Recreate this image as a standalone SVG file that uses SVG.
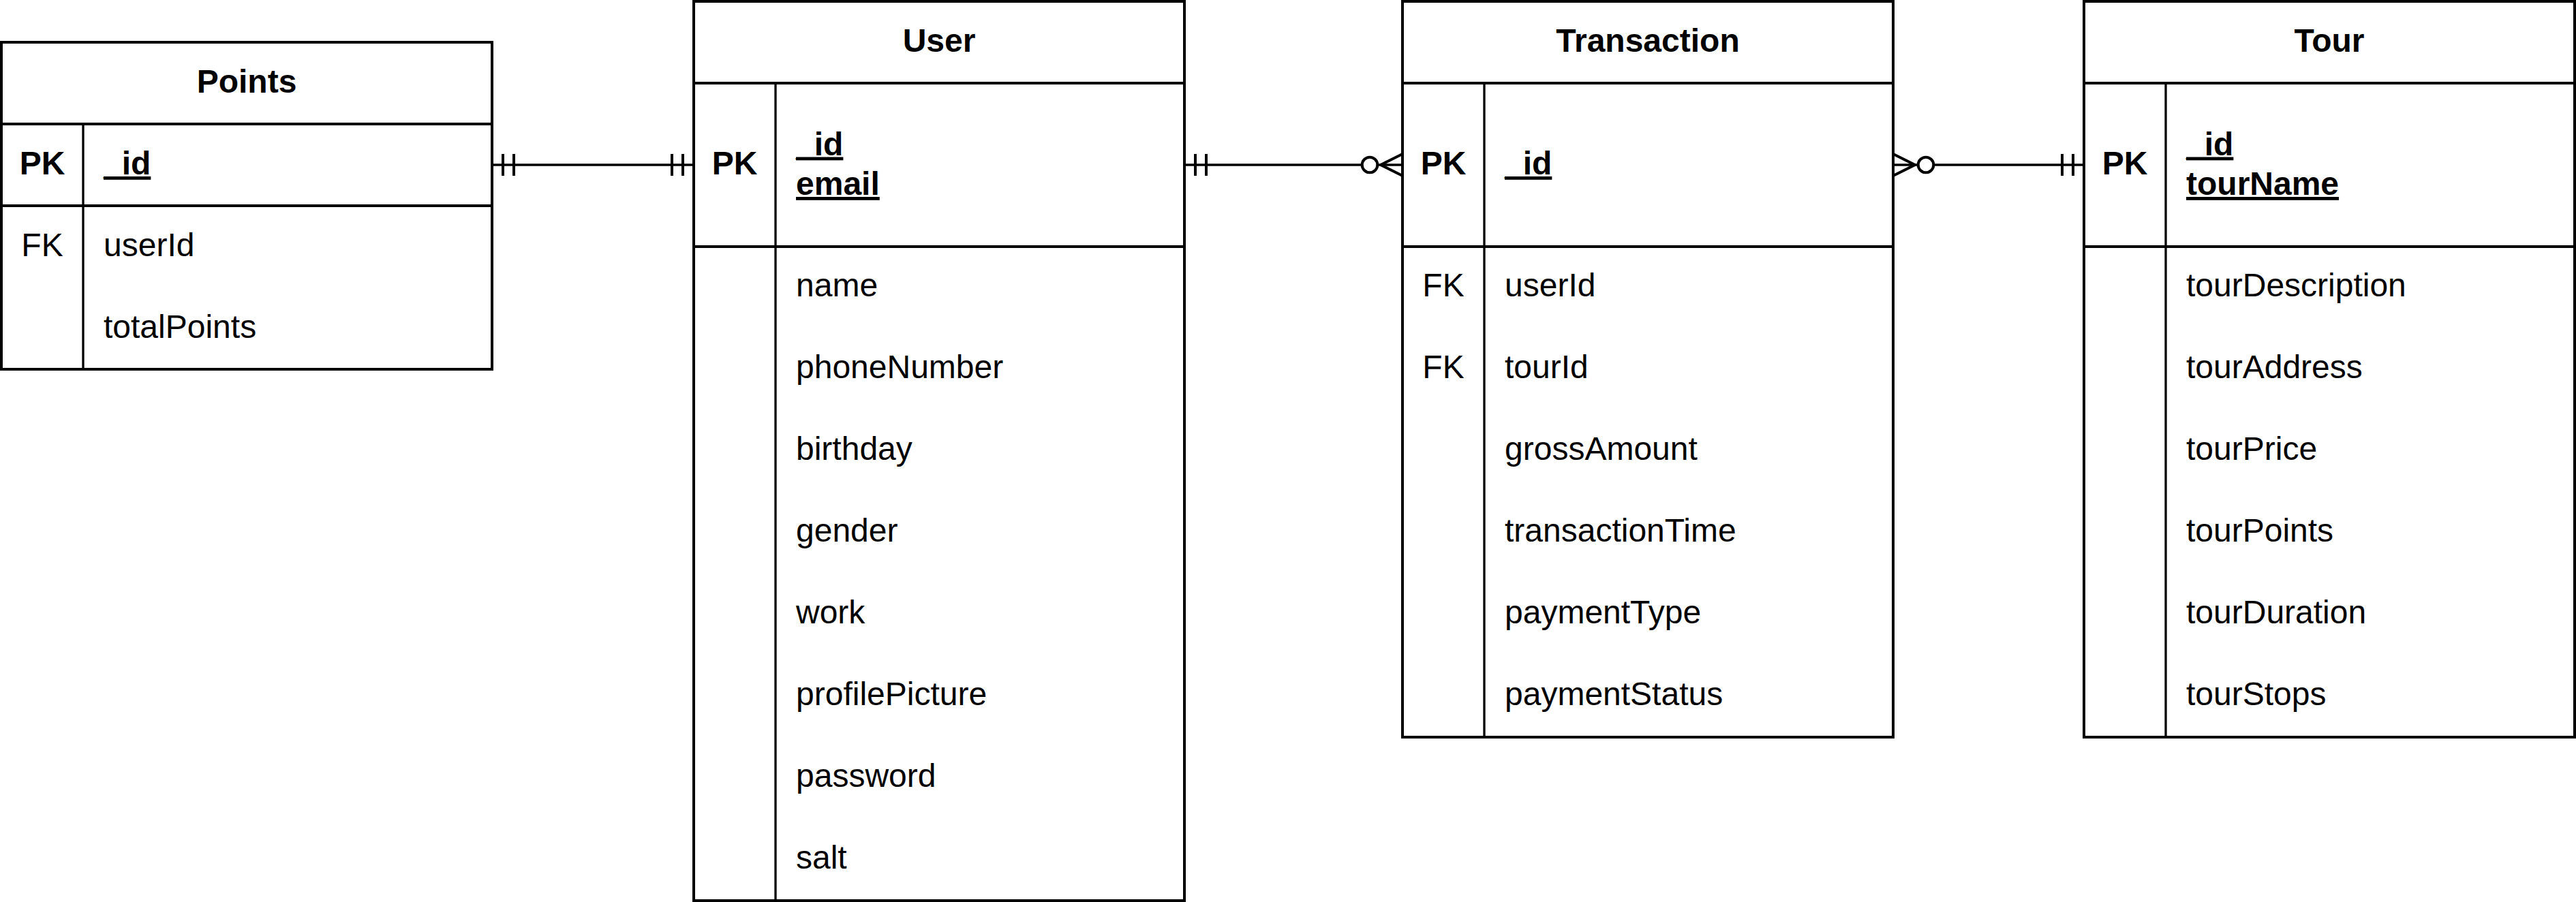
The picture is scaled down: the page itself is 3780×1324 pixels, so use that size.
<svg xmlns="http://www.w3.org/2000/svg" width="3780" height="1324" viewBox="0 0 3780 1324">
<style>
.box{fill:#fff;stroke:#000;stroke-width:4}
.ln{stroke:#000;stroke-width:4;fill:none}
.dv{stroke:#000;stroke-width:3.3;fill:none}
.t{font-family:"Liberation Sans",Arial,sans-serif;font-size:48px;fill:#000}
.b{font-weight:bold}
.c{text-anchor:middle}
.u{text-decoration:underline}
.cn{stroke:#000;stroke-width:3.5;fill:none}
</style>
<rect x="0" y="0" width="3780" height="1324" fill="#fff"/>
<g id="points">
<rect class="box" x="2" y="62" width="720" height="480"/>
<line class="ln" x1="2" y1="182" x2="722" y2="182"/>
<line class="ln" x1="2" y1="302" x2="722" y2="302"/>
<line class="dv" x1="122" y1="182" x2="122" y2="542"/>
<text class="t b c" x="362" y="136">Points</text>
<text class="t b c" x="62" y="256">PK</text>
<text class="t b u" x="152" y="256">_id</text>
<text class="t c" x="62" y="376">FK</text>
<text class="t" x="152" y="376">userId</text>
<text class="t" x="152" y="496">totalPoints</text>
</g>
<g id="user">
<rect class="box" x="1018" y="2" width="720" height="1320"/>
<line class="ln" x1="1018" y1="122" x2="1738" y2="122"/>
<line class="ln" x1="1018" y1="362" x2="1738" y2="362"/>
<line class="dv" x1="1138" y1="122" x2="1138" y2="1322"/>
<text class="t b c" x="1378" y="76">User</text>
<text class="t b c" x="1078" y="256">PK</text>
<text class="t b u" x="1168" y="227.5">_id</text>
<text class="t b u" x="1168" y="286">email</text>
<text class="t" x="1168" y="435">name</text>
<text class="t" x="1168" y="555">phoneNumber</text>
<text class="t" x="1168" y="675">birthday</text>
<text class="t" x="1168" y="795">gender</text>
<text class="t" x="1168" y="915">work</text>
<text class="t" x="1168" y="1035">profilePicture</text>
<text class="t" x="1168" y="1155">password</text>
<text class="t" x="1168" y="1275">salt</text>
</g>
<g id="transaction">
<rect class="box" x="2058" y="2" width="720" height="1080"/>
<line class="ln" x1="2058" y1="122" x2="2778" y2="122"/>
<line class="ln" x1="2058" y1="362" x2="2778" y2="362"/>
<line class="dv" x1="2178" y1="122" x2="2178" y2="1082"/>
<text class="t b c" x="2418" y="76">Transaction</text>
<text class="t b c" x="2118" y="256">PK</text>
<text class="t b u" x="2208" y="256">_id</text>
<text class="t c" x="2118" y="435">FK</text>
<text class="t c" x="2118" y="555">FK</text>
<text class="t" x="2208" y="435">userId</text>
<text class="t" x="2208" y="555">tourId</text>
<text class="t" x="2208" y="675">grossAmount</text>
<text class="t" x="2208" y="795">transactionTime</text>
<text class="t" x="2208" y="915">paymentType</text>
<text class="t" x="2208" y="1035">paymentStatus</text>
</g>
<g id="tour">
<rect class="box" x="3058" y="2" width="720" height="1080"/>
<line class="ln" x1="3058" y1="122" x2="3778" y2="122"/>
<line class="ln" x1="3058" y1="362" x2="3778" y2="362"/>
<line class="dv" x1="3178" y1="122" x2="3178" y2="1082"/>
<text class="t b c" x="3418" y="76">Tour</text>
<text class="t b c" x="3118" y="256">PK</text>
<text class="t b u" x="3208" y="227.5">_id</text>
<text class="t b u" x="3208" y="286">tourName</text>
<text class="t" x="3208" y="435">tourDescription</text>
<text class="t" x="3208" y="555">tourAddress</text>
<text class="t" x="3208" y="675">tourPrice</text>
<text class="t" x="3208" y="795">tourPoints</text>
<text class="t" x="3208" y="915">tourDuration</text>
<text class="t" x="3208" y="1035">tourStops</text>
</g>
<g id="connectors">
<path class="cn" d="M722 242H1018"/>
<path class="ln" d="M738 226V258M754 226V258M986 226V258M1002 226V258"/>
<path class="cn" d="M1738 242H2058"/>
<path class="ln" d="M1754 226V258M1770 226V258"/>
<circle cx="2010" cy="242" r="11.3" fill="#fff" stroke="#000" stroke-width="4"/>
<path class="ln" d="M2058 226L2026 242L2058 258"/>
<path class="cn" d="M2778 242H3058"/>
<path class="ln" d="M2778 226L2810 242L2778 258"/>
<circle cx="2826" cy="242" r="11.3" fill="#fff" stroke="#000" stroke-width="4"/>
<path class="ln" d="M3026 226V258M3042 226V258"/>
</g>
</svg>
